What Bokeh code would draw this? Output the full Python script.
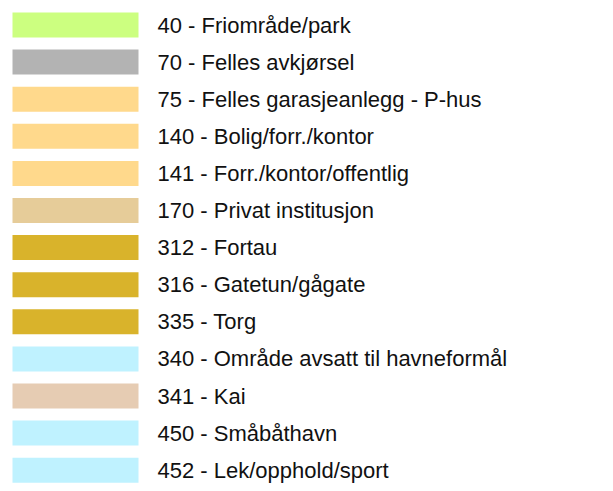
from bokeh.plotting import figure
from bokeh.models import ColumnDataSource, Range1d
from bokeh.core.properties import value
from bokeh.embed import file_html
from bokeh.resources import INLINE

codes = ["40", "70", "75", "140", "141", "170", "312", "316", "335", "340", "341", "450", "452"]
names = ["Friområde/park", "Felles avkjørsel", "Felles garasjeanlegg - P-hus",
         "Bolig/forr./kontor", "Forr./kontor/offentlig", "Privat institusjon",
         "Fortau", "Gatetun/gågate", "Torg", "Område avsatt til havneformål",
         "Kai", "Småbåthavn", "Lek/opphold/sport"]
colors = ["#CCFF80", "#B3B3B3", "#FFD98C", "#FFD98C", "#FFD98C", "#E6CC99",
          "#D9B32B", "#D9B32B", "#D9B32B", "#BFF2FF", "#E6CCB3", "#BFF2FF", "#BFF2FF"]

W, H = 597, 483
row_px = 37.1
top_px = 24.5

labels = [f"{c} - {n}" for c, n in zip(codes, names)]
rows = list(range(len(codes)))

src = ColumnDataSource(dict(row=rows, label=labels, color=colors))

p = figure(width=W, height=H, output_backend="svg", toolbar_location=None,
           x_range=Range1d(0, W),
           y_range=Range1d((H - top_px) / row_px, -top_px / row_px),
           min_border=0, outline_line_color=None)
p.xaxis.visible = False
p.yaxis.visible = False
p.grid.visible = False
p.background_fill_color = "white"
p.border_fill_color = "white"

p.rect(x=75, y="row", width=126, height=25 / row_px, source=src,
       fill_color="color", line_color=None)
p.text(x=157, y="row", text="label", source=src,
       text_font=value("Liberation Sans"), text_font_size="22px",
       text_baseline="middle", text_align="left", text_color="#111111")

open("out.html", "w").write(file_html(p, INLINE))
